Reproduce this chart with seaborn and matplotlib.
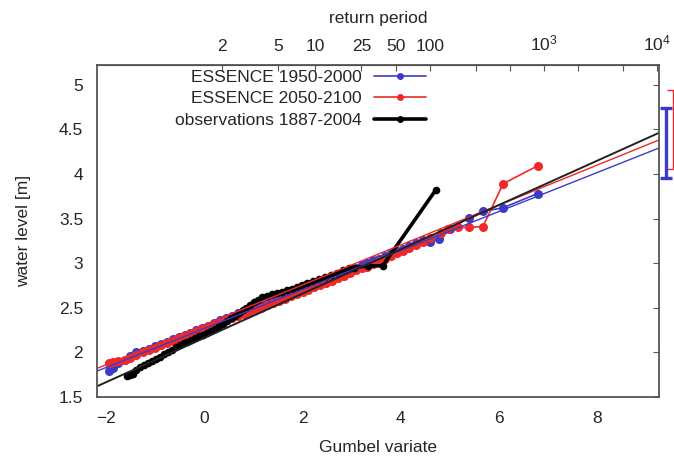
import numpy as np
import matplotlib
matplotlib.use("Agg")
import matplotlib.pyplot as plt
import seaborn as sns

# Gumbel variate vs water level
blue_x = [-1.93, -1.85, -1.75, -1.62, -1.5, -1.38, -1.25, -1.12, -1.0, -0.88, -0.76, -0.64,
          -0.52, -0.4, -0.28, -0.16, -0.04, 0.08, 0.2, 0.32, 0.44, 0.56, 0.68, 0.8, 0.92,
          1.04, 1.16, 1.28, 1.4, 1.52, 1.64, 1.76, 1.88, 2.0, 2.12, 2.24, 2.36, 2.48, 2.6,
          2.72, 2.84, 2.96, 3.08, 3.2, 3.32, 3.44, 3.56, 3.68, 3.8, 3.92, 4.04, 4.16, 4.3,
          4.45, 4.6, 4.78, 5.0, 5.38, 5.68, 6.08, 6.78]
blue_y = [1.79, 1.83, 1.88, 1.92, 1.96, 2.00, 2.01, 2.04, 2.07, 2.09, 2.12, 2.15,
          2.17, 2.20, 2.22, 2.25, 2.27, 2.30, 2.33, 2.36, 2.38, 2.41, 2.44, 2.46, 2.49,
          2.52, 2.55, 2.57, 2.60, 2.62, 2.64, 2.67, 2.69, 2.72, 2.74, 2.77, 2.80, 2.83, 2.86,
          2.88, 2.90, 2.93, 2.95, 2.98, 3.00, 3.03, 3.05, 3.08, 3.11, 3.14, 3.16, 3.19, 3.22,
          3.26, 3.24, 3.27, 3.38, 3.51, 3.58, 3.62, 3.78]

red_x = [-1.93, -1.85, -1.75, -1.62, -1.5, -1.38, -1.25, -1.12, -1.0, -0.88, -0.76, -0.64,
         -0.52, -0.4, -0.28, -0.16, -0.04, 0.08, 0.2, 0.32, 0.44, 0.56, 0.68, 0.8, 0.92,
         1.04, 1.16, 1.28, 1.4, 1.52, 1.64, 1.76, 1.88, 2.0, 2.12, 2.24, 2.36, 2.48, 2.6,
         2.72, 2.84, 2.96, 3.08, 3.2, 3.32, 3.44, 3.56, 3.68, 3.8, 3.92, 4.04, 4.16, 4.3,
         4.45, 4.6, 4.82, 4.96, 5.16, 5.39, 5.67, 6.08, 6.78]
red_y = [1.88, 1.89, 1.90, 1.92, 1.94, 1.97, 2.00, 2.03, 2.05, 2.08, 2.11, 2.13,
         2.16, 2.18, 2.21, 2.23, 2.26, 2.28, 2.31, 2.33, 2.36, 2.38, 2.41, 2.43, 2.45,
         2.48, 2.50, 2.53, 2.55, 2.58, 2.60, 2.63, 2.65, 2.68, 2.70, 2.73, 2.75, 2.78, 2.80,
         2.83, 2.86, 2.89, 2.92, 2.94, 2.96, 2.99, 3.02, 3.05, 3.08, 3.11, 3.14, 3.17, 3.20,
         3.24, 3.28, 3.34, 3.38, 3.40, 3.40, 3.41, 3.89, 4.09]

obs_x = [-1.56, -1.5, -1.45, -1.38, -1.3, -1.22, -1.14, -1.06, -0.98, -0.9, -0.82, -0.74,
         -0.66, -0.58, -0.5, -0.42, -0.34, -0.26, -0.18, -0.1, -0.02, 0.06, 0.14, 0.22,
         0.3, 0.38, 0.46, 0.54, 0.62, 0.7, 0.78, 0.86, 0.94, 1.02, 1.1, 1.18, 1.28, 1.38,
         1.48, 1.58, 1.68, 1.78, 1.88, 1.98, 2.1, 2.22, 2.34, 2.46, 2.58, 2.7, 2.82, 2.94,
         3.05, 3.33, 3.63, 4.71]
obs_y = [1.74, 1.75, 1.76, 1.80, 1.84, 1.86, 1.88, 1.90, 1.93, 1.95, 1.98, 2.00,
         2.03, 2.06, 2.08, 2.10, 2.12, 2.14, 2.16, 2.18, 2.20, 2.22, 2.24, 2.26,
         2.29, 2.32, 2.35, 2.38, 2.41, 2.44, 2.47, 2.50, 2.53, 2.56, 2.59, 2.62, 2.63, 2.65,
         2.66, 2.68, 2.70, 2.71, 2.73, 2.76, 2.78, 2.80, 2.82, 2.85, 2.87, 2.89, 2.92, 2.94,
         2.95, 2.97, 2.97, 3.82]

# fitted Gumbel lines (end points)
fit_x = [-2.18, 9.25]
blue_fit = [1.79, 4.29]
red_fit = [1.82, 4.38]
obs_fit = [1.62, 4.46]

# 10^4-year return level ranges
bar_x = [9.39, 9.53]
bar_low = [3.95, 4.05]
bar_high = [4.74, 4.94]

period_ticks = [2, 5, 10, 25, 50, 100, 1000, 10000]
period_labels = ["2", "5", "10", "25", "50", "100", r"$10^3$", r"$10^4$"]
period_minor = [250, 500, 2000, 5000]

labels = ["ESSENCE 1950-2000", "ESSENCE 2050-2100", "observations 1887-2004"]
blue, red, black = "#3b3bc8", "#f02828", "#000000"
FS = 12.5

sns.set_style("white")
plt.rcParams["font.family"] = ["Liberation Sans", "DejaVu Sans"]
plt.rcParams["mathtext.default"] = "regular"
plt.rcParams["font.size"] = FS

fig = plt.figure(figsize=(6.74, 4.62), dpi=100)
ax = fig.add_axes([97 / 674, 65 / 462, 562 / 674, 332 / 462])

sns.lineplot(x=blue_x, y=blue_y, ax=ax, color=blue, lw=1.2, marker="o", ms=6.5,
             mec="none", sort=False, estimator=None, label=labels[0])
sns.lineplot(x=red_x, y=red_y, ax=ax, color=red, lw=1.2, marker="o", ms=6.5,
             mec="none", sort=False, estimator=None, label=labels[1])
sns.lineplot(x=obs_x, y=obs_y, ax=ax, color=black, lw=2.6, marker="o", ms=5.5,
             mec="none", sort=False, estimator=None, label=labels[2])

ax.plot(fit_x, blue_fit, color=blue, lw=1.0)
ax.plot(fit_x, red_fit, color=red, lw=1.0)
ax.plot(fit_x, obs_fit, color="#222222", lw=1.4)

# range bars outside the axes, at the right edge
for xb, lo, hi, c, w in zip(bar_x, bar_low, bar_high, [blue, red], [2.4, 1.0]):
    mid = (lo + hi) / 2
    eb = ax.errorbar([xb], [mid], yerr=[[mid - lo], [hi - mid]], fmt="none",
                     ecolor=c, elinewidth=w, capsize=4.5, capthick=w)
    for art in eb.get_children():
        art.set_clip_on(False)

ax.set_xlim(-2.18, 9.25)
ax.set_ylim(1.5, 5.22)
ax.set_xticks([-2, 0, 2, 4, 6, 8])
ax.set_yticks([1.5, 2, 2.5, 3, 3.5, 4, 4.5, 5])
ax.set_yticklabels(["1.5", "2", "2.5", "3", "3.5", "4", "4.5", "5"])
ax.set_xlabel("Gumbel variate", fontsize=FS, labelpad=10)
ax.set_ylabel("water level [m]", fontsize=FS, labelpad=20)
ax.tick_params(direction="in", length=4, width=0.8, color="#555555",
               right=True, labelsize=FS, pad=10)
for sp in ax.spines.values():
    sp.set_color("#555555")
    sp.set_linewidth(1.3)


def to_period(g):
    g = np.asarray(g, dtype=float)
    with np.errstate(all="ignore"):
        return 1.0 / (1.0 - np.exp(-np.exp(-g)))


def to_gumbel(t):
    t = np.clip(np.asarray(t, dtype=float), 1.0 + 1e-9, None)
    with np.errstate(all="ignore"):
        return -np.log(-np.log(1.0 - 1.0 / t))


top = ax.secondary_xaxis("top", functions=(to_period, to_gumbel))
top.set_xticks(period_ticks)
top.set_xticklabels(period_labels)
top.set_xticks(period_minor, minor=True)
top.tick_params(direction="in", length=4, width=0.8, color="#555555",
                labelsize=FS, pad=8)
top.tick_params(which="minor", direction="in", length=4, width=0.8, color="#555555")
top.set_xlabel("return period", fontsize=FS, labelpad=8)
ax.tick_params(top=False)

leg = ax.legend(loc="upper right", bbox_to_anchor=(0.585, 0.985), frameon=False,
                markerfirst=False, handlelength=3.0, handletextpad=0.7,
                labelspacing=0.35, borderpad=0, borderaxespad=0, fontsize=FS)
for h in leg.legend_handles:
    h.set_markersize(5)

fig.savefig("out.png", dpi=100)
